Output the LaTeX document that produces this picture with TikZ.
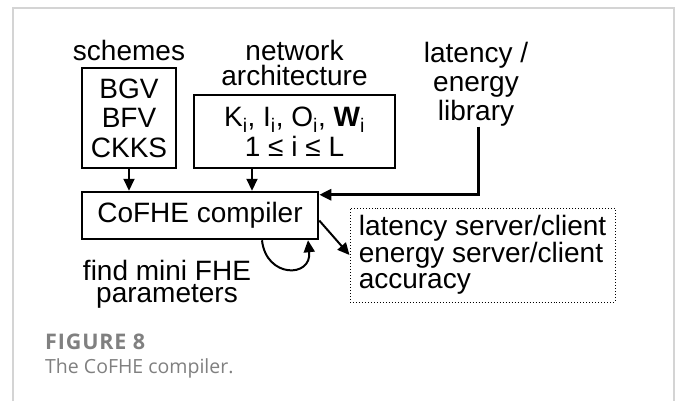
\documentclass[tikz,border=0pt]{standalone}
\usepackage{fontspec}
\setmainfont{Liberation Sans}
\newfontfamily\pie{Open Sans}
\newfontfamily\piefig[LetterSpace=4]{Open Sans}
\usetikzlibrary{arrows.meta}
\definecolor{marco}{HTML}{D4D4D4}
\definecolor{gristexto}{HTML}{808080}
\newcommand{\letra}{\fontsize{28bp}{29.5bp}\selectfont}

\tikzset{
  caja/.style={draw, line width=1.3bp, inner sep=0pt, align=center, font=\letra},
  etiqueta/.style={inner sep=0pt, align=center, font=\letra, anchor=north},
  flecha/.style={line width=2bp, -{Triangle[length=12bp,width=11bp]}},
  pie/.style={inner sep=0pt, anchor=base west, text=gristexto}
}

\begin{document}
\begin{tikzpicture}[x=1bp,y=-1bp]
  \useasboundingbox[fill=white] (0,0) rectangle (677,401);
  % marco
  \draw[marco, line width=1.5bp] (13,401) |- (674,8) -- (674,401);

  % entradas
  \node[caja, minimum width=94bp, minimum height=100bp] (esquemas) at (129,118)
    {BGV\\BFV\\CKKS};
  \node[etiqueta] (lesquemas) at (129,40) {schemes};

  \node[caja, minimum width=201bp, minimum height=73bp] (red) at (294.5,131.5)
    {K\textsubscript{i}, I\textsubscript{i}, O\textsubscript{i}, \textbf{W}\textsubscript{i}\\1 ≤ i ≤ L};
  \node[etiqueta, font=\fontsize{28bp}{25bp}\selectfont] (lred) at (294.5,40)
    {network\\architecture};

  \node[etiqueta, font=\fontsize{28bp}{29bp}\selectfont] (latencia) at (476,42)
    {latency /\\energy\\library};

  % compilador
  \node[caja, line width=2.5bp, minimum width=236bp, minimum height=47bp] (compilador)
    at (200,215.5) {CoFHE compiler};

  % salidas
  \node[draw, dotted, line width=1bp, inner sep=0pt, align=left, font=\fontsize{28bp}{26bp}\selectfont,
        minimum width=265bp, minimum height=94bp] (salidas) at (482.5,255)
    {latency server/client\\energy server/client\\ accuracy};

  \node[etiqueta, font=\fontsize{28bp}{22bp}\selectfont] (buscar) at (167,260)
    {find mini FHE\\parameters};

  % flechas
  \draw[flecha] (esquemas.south) -- (esquemas.south |- compilador.north);
  \draw[flecha] ([xshift=-42.5bp]red.south) -- ([xshift=-42.5bp]red.south |- compilador.north);
  \draw[flecha, line width=3bp] ([xshift=2.5bp]latencia.south) |- ([yshift=-4bp]compilador.north east);
  \draw[flecha] ([yshift=-5bp]compilador.east) -- (salidas.west);
  \draw[flecha] ([xshift=62bp]compilador.south) .. controls +(4,38) and +(4,38) .. ([xshift=108bp]compilador.south);

  % pie de figura
  \node[pie, font=\piefig\bfseries\fontsize{21.5bp}{24bp}\selectfont] (figura) at (45,349) {FIGURE 8};
  \node[pie, font=\pie\fontsize{19.5bp}{24bp}\selectfont] (titulo) at (45,373) {The CoFHE compiler.};
\end{tikzpicture}
\end{document}
